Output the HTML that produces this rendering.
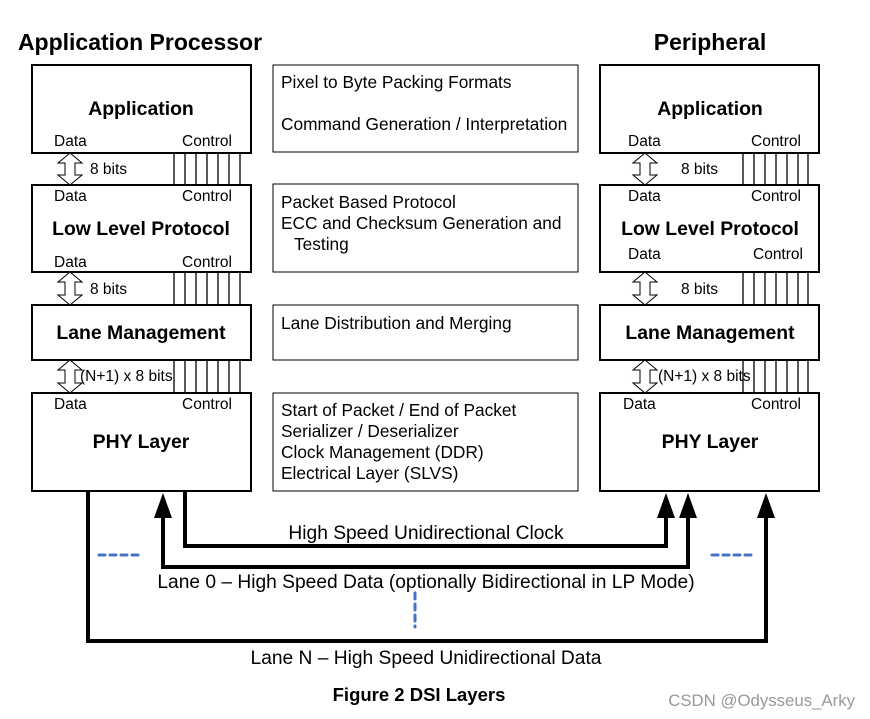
<!DOCTYPE html>
<html><head><meta charset="utf-8"><style>
html,body{margin:0;padding:0;background:#fff;}
svg{display:block;font-family:"Liberation Sans",Arial,sans-serif;}
</style></head><body>
<svg width="870" height="719" viewBox="0 0 870 719" xmlns="http://www.w3.org/2000/svg">
<g font-weight="bold" font-size="23" fill="#000">
<text x="140" y="50" text-anchor="middle">Application Processor</text>
<text x="710" y="50" text-anchor="middle">Peripheral</text>
</g>
<g fill="#fff" stroke="#000" stroke-width="2">
<rect x="32" y="65" width="219" height="88"/>
<rect x="32" y="185" width="219" height="87"/>
<rect x="32" y="305" width="219" height="55"/>
<rect x="32" y="393" width="219" height="98"/>
<rect x="600" y="65" width="219" height="88"/>
<rect x="600" y="185" width="219" height="87"/>
<rect x="600" y="305" width="219" height="55"/>
<rect x="600" y="393" width="219" height="98"/>
</g>
<g fill="#fff" stroke="#000" stroke-width="1">
<rect x="273" y="65" width="305" height="87"/>
<rect x="273" y="184" width="305" height="88"/>
<rect x="273" y="305" width="305" height="55"/>
<rect x="273" y="393" width="305" height="98"/>
</g>
<g font-weight="bold" font-size="19.4" text-anchor="middle">
<text x="141" y="115">Application</text>
<text x="141" y="235">Low Level Protocol</text>
<text x="141" y="339">Lane Management</text>
<text x="141" y="448">PHY Layer</text>
<text x="710" y="115">Application</text>
<text x="710" y="235">Low Level Protocol</text>
<text x="710" y="339">Lane Management</text>
<text x="710" y="448">PHY Layer</text>
</g>
<g font-size="15.5">
<text x="54" y="146">Data</text><text x="182" y="146">Control</text>
<text x="54" y="201">Data</text><text x="182" y="201">Control</text>
<text x="54" y="267">Data</text><text x="182" y="267">Control</text>
<text x="54" y="409">Data</text><text x="182" y="409">Control</text>
<text x="628" y="146">Data</text><text x="751" y="146">Control</text>
<text x="628" y="201">Data</text><text x="751" y="201">Control</text>
<text x="628" y="259">Data</text><text x="753" y="259">Control</text>
<text x="623" y="409">Data</text><text x="751" y="409">Control</text>
<text x="90" y="174">8 bits</text>
<text x="90" y="294">8 bits</text>
<text x="80" y="381">(N+1) x 8 bits</text>
<text x="681" y="174">8 bits</text>
<text x="681" y="294">8 bits</text>
<text x="658" y="381">(N+1) x 8 bits</text>
</g>
<g stroke="#000" stroke-width="1.3">
<path d="M174 153V185M185 153V185M196 153V185M207 153V185M218 153V185M229 153V185M240 153V185"/>
<path d="M174 272V305M185 272V305M196 272V305M207 272V305M218 272V305M229 272V305M240 272V305"/>
<path d="M174 360V393M185 360V393M196 360V393M207 360V393M218 360V393M229 360V393M240 360V393"/>
<path d="M743 153V185M754 153V185M765 153V185M776 153V185M787 153V185M798 153V185M808 153V185"/>
<path d="M743 272V305M754 272V305M765 272V305M776 272V305M787 272V305M798 272V305M808 272V305"/>
<path d="M743 360V393M754 360V393M765 360V393M776 360V393M787 360V393M798 360V393M808 360V393"/>
</g>
<g fill="#fff" stroke="#000" stroke-width="1">
<polygon points="70,153 82,163 75,163 75,175 82,175 70,185 58,175 65,175 65,163 58,163"/>
<polygon points="70,272 82,282 75,282 75,295 82,295 70,305 58,295 65,295 65,282 58,282"/>
<polygon points="70,360 82,370 75,370 75,383 82,383 70,393 58,383 65,383 65,370 58,370"/>
<polygon points="645,153 657,163 650,163 650,175 657,175 645,185 633,175 640,175 640,163 633,163"/>
<polygon points="645,272 657,282 650,282 650,295 657,295 645,305 633,295 640,295 640,282 633,282"/>
<polygon points="645,360 657,370 650,370 650,383 657,383 645,393 633,383 640,383 640,370 633,370"/>
</g>
<g font-size="17.3">
<text x="281" y="88">Pixel to Byte Packing Formats</text>
<text x="281" y="130">Command Generation / Interpretation</text>
<text x="281" y="208">Packet Based Protocol</text>
<text x="281" y="229">ECC and Checksum Generation and</text>
<text x="294" y="250">Testing</text>
<text x="281" y="329">Lane Distribution and Merging</text>
<text x="281" y="416">Start of Packet / End of Packet</text>
<text x="281" y="437">Serializer / Deserializer</text>
<text x="281" y="458">Clock Management (DDR)</text>
<text x="281" y="479">Electrical Layer (SLVS)</text>
</g>
<g fill="none" stroke="#000" stroke-width="4">
<path d="M88 491V641H766V515"/>
<path d="M163 515V567H688V515"/>
<path d="M185 491V546H666V515"/>
</g>
<g fill="#000">
<polygon points="163,493 154,518 172,518"/>
<polygon points="666,493 657,518 675,518"/>
<polygon points="688,493 679,518 697,518"/>
<polygon points="766,493 757,518 775,518"/>
</g>
<g stroke="#4472c4" stroke-width="3" stroke-dasharray="6,5" stroke-linecap="round">
<path d="M99 555H143"/><path d="M712 555H756"/><path d="M415 593V627"/>
</g>
<g font-size="19.2" text-anchor="middle">
<text x="426" y="539">High Speed Unidirectional Clock</text>
<text x="426" y="588">Lane 0 – High Speed Data (optionally Bidirectional in LP Mode)</text>
<text x="426" y="664">Lane N – High Speed Unidirectional Data</text>
</g>
<text x="419" y="701" font-size="18.5" font-weight="bold" text-anchor="middle">Figure 2 DSI Layers</text>
<text x="855" y="706" font-size="16.8" fill="#999" text-anchor="end">CSDN @Odysseus_Arky</text>
</svg>
</body></html>
